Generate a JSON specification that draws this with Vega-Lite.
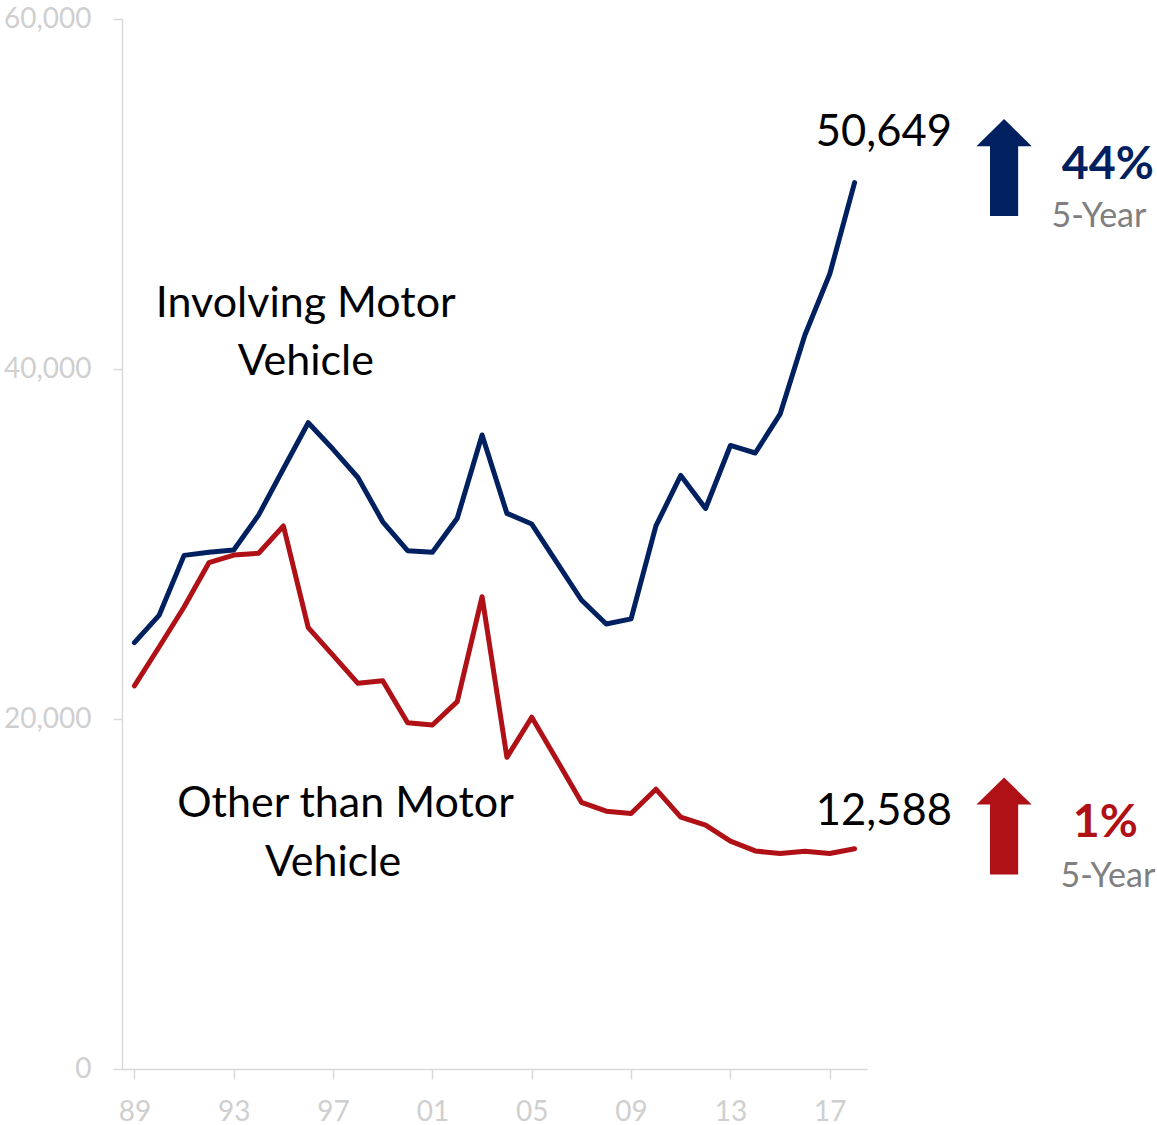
{
  "$schema": "https://vega.github.io/schema/vega-lite/v6.json",
  "width": 745,
  "height": 1050,
  "autosize": {"type": "none"},
  "padding": {"left": 122, "top": 19, "right": 290, "bottom": 56},
  "background": "white",
  "config": {
    "view": {"stroke": null},
    "font": "Lato",
    "axis": {
      "grid": false,
      "title": null,
      "domainColor": "#D9D9D9",
      "tickColor": "#D9D9D9",
      "labelColor": "#CFCFCF",
      "labelFont": "Lato",
      "labelFontSize": 28,
      "domainWidth": 1.5,
      "tickWidth": 1.5
    }
  },
  "datasets": {
    "series": [
      {"year": 1989, "series": "Involving Motor Vehicle", "value": 24360},
      {"year": 1990, "series": "Involving Motor Vehicle", "value": 25940},
      {"year": 1991, "series": "Involving Motor Vehicle", "value": 29350},
      {"year": 1992, "series": "Involving Motor Vehicle", "value": 29530},
      {"year": 1993, "series": "Involving Motor Vehicle", "value": 29660},
      {"year": 1994, "series": "Involving Motor Vehicle", "value": 31650},
      {"year": 1995, "series": "Involving Motor Vehicle", "value": 34300},
      {"year": 1996, "series": "Involving Motor Vehicle", "value": 36930},
      {"year": 1997, "series": "Involving Motor Vehicle", "value": 35410},
      {"year": 1998, "series": "Involving Motor Vehicle", "value": 33800},
      {"year": 1999, "series": "Involving Motor Vehicle", "value": 31270},
      {"year": 2000, "series": "Involving Motor Vehicle", "value": 29620},
      {"year": 2001, "series": "Involving Motor Vehicle", "value": 29530},
      {"year": 2002, "series": "Involving Motor Vehicle", "value": 31470},
      {"year": 2003, "series": "Involving Motor Vehicle", "value": 36230},
      {"year": 2004, "series": "Involving Motor Vehicle", "value": 31750},
      {"year": 2005, "series": "Involving Motor Vehicle", "value": 31140},
      {"year": 2006, "series": "Involving Motor Vehicle", "value": 28970},
      {"year": 2007, "series": "Involving Motor Vehicle", "value": 26800},
      {"year": 2008, "series": "Involving Motor Vehicle", "value": 25430},
      {"year": 2009, "series": "Involving Motor Vehicle", "value": 25720},
      {"year": 2010, "series": "Involving Motor Vehicle", "value": 31030},
      {"year": 2011, "series": "Involving Motor Vehicle", "value": 33920},
      {"year": 2012, "series": "Involving Motor Vehicle", "value": 32030},
      {"year": 2013, "series": "Involving Motor Vehicle", "value": 35630},
      {"year": 2014, "series": "Involving Motor Vehicle", "value": 35200},
      {"year": 2015, "series": "Involving Motor Vehicle", "value": 37420},
      {"year": 2016, "series": "Involving Motor Vehicle", "value": 41940},
      {"year": 2017, "series": "Involving Motor Vehicle", "value": 45430},
      {"year": 2018, "series": "Involving Motor Vehicle", "value": 50649},
      {"year": 1989, "series": "Other than Motor Vehicle", "value": 21890},
      {"year": 1990, "series": "Other than Motor Vehicle", "value": 24130},
      {"year": 1991, "series": "Other than Motor Vehicle", "value": 26400},
      {"year": 1992, "series": "Other than Motor Vehicle", "value": 28930},
      {"year": 1993, "series": "Other than Motor Vehicle", "value": 29370},
      {"year": 1994, "series": "Other than Motor Vehicle", "value": 29470},
      {"year": 1995, "series": "Other than Motor Vehicle", "value": 31030},
      {"year": 1996, "series": "Other than Motor Vehicle", "value": 25220},
      {"year": 1997, "series": "Other than Motor Vehicle", "value": 23640},
      {"year": 1998, "series": "Other than Motor Vehicle", "value": 22040},
      {"year": 1999, "series": "Other than Motor Vehicle", "value": 22190},
      {"year": 2000, "series": "Other than Motor Vehicle", "value": 19790},
      {"year": 2001, "series": "Other than Motor Vehicle", "value": 19660},
      {"year": 2002, "series": "Other than Motor Vehicle", "value": 20990},
      {"year": 2003, "series": "Other than Motor Vehicle", "value": 26990},
      {"year": 2004, "series": "Other than Motor Vehicle", "value": 17810},
      {"year": 2005, "series": "Other than Motor Vehicle", "value": 20100},
      {"year": 2006, "series": "Other than Motor Vehicle", "value": 17690},
      {"year": 2007, "series": "Other than Motor Vehicle", "value": 15240},
      {"year": 2008, "series": "Other than Motor Vehicle", "value": 14730},
      {"year": 2009, "series": "Other than Motor Vehicle", "value": 14600},
      {"year": 2010, "series": "Other than Motor Vehicle", "value": 15990},
      {"year": 2011, "series": "Other than Motor Vehicle", "value": 14390},
      {"year": 2012, "series": "Other than Motor Vehicle", "value": 13940},
      {"year": 2013, "series": "Other than Motor Vehicle", "value": 13020},
      {"year": 2014, "series": "Other than Motor Vehicle", "value": 12460},
      {"year": 2015, "series": "Other than Motor Vehicle", "value": 12310},
      {"year": 2016, "series": "Other than Motor Vehicle", "value": 12440},
      {"year": 2017, "series": "Other than Motor Vehicle", "value": 12310},
      {"year": 2018, "series": "Other than Motor Vehicle", "value": 12588}
    ],
    "notes": [
      {"kind": "label", "text": "Involving Motor", "year": 1995.9, "value": 43000, "series": "Involving Motor Vehicle"},
      {"kind": "label", "text": "Vehicle", "year": 1995.9, "value": 39660, "series": "Involving Motor Vehicle"},
      {"kind": "label", "text": "Other than Motor", "year": 1997.5, "value": 14400, "series": "Other than Motor Vehicle"},
      {"kind": "label", "text": "Vehicle", "year": 1997.0, "value": 11050, "series": "Other than Motor Vehicle"},
      {"kind": "value", "text": "50,649", "year": 2019.18, "value": 52740, "series": "Involving Motor Vehicle"},
      {"kind": "value", "text": "12,588", "year": 2019.18, "value": 13940, "series": "Other than Motor Vehicle"},
      {"kind": "pct", "text": "44%", "year": 2028.2, "value": 50860, "series": "Involving Motor Vehicle"},
      {"kind": "pct", "text": "1%", "year": 2028.1, "value": 13260, "series": "Other than Motor Vehicle"},
      {"kind": "sub", "text": "5-Year", "year": 2027.84, "value": 48110, "series": "Involving Motor Vehicle"},
      {"kind": "sub", "text": "5-Year", "year": 2028.2, "value": 10400, "series": "Other than Motor Vehicle"},
      {"kind": "arrow", "text": "", "year": 2024.02, "value": 51510, "series": "Involving Motor Vehicle"},
      {"kind": "arrow", "text": "", "year": 2024.02, "value": 13890, "series": "Other than Motor Vehicle"}
    ]
  },
  "encoding": {
    "x": {
      "field": "year",
      "type": "quantitative",
      "scale": {"domain": [1988.5, 2018.5], "nice": false, "zero": false},
      "axis": {
        "values": [1989, 1993, 1997, 2001, 2005, 2009, 2013, 2017],
        "format": "d",
        "labelExpr": "slice(datum.label, 2)",
        "tickSize": 10,
        "labelPadding": 19
      }
    },
    "y": {
      "field": "value",
      "type": "quantitative",
      "scale": {"domain": [0, 60000], "nice": false},
      "axis": {
        "values": [0, 20000, 40000, 60000],
        "format": ",.0f",
        "tickSize": 9,
        "labelPadding": 22
      }
    },
    "color": {
      "field": "series",
      "type": "nominal",
      "scale": {
        "domain": ["Involving Motor Vehicle", "Other than Motor Vehicle"],
        "range": ["#002060", "#AF1116"]
      },
      "legend": null
    }
  },
  "layer": [
    {
      "data": {"name": "series"},
      "mark": {"type": "line", "strokeWidth": 5, "strokeCap": "round", "strokeJoin": "round"}
    },
    {
      "data": {"name": "notes"},
      "transform": [{"filter": "datum.kind === 'arrow'"}],
      "mark": {
        "type": "point",
        "shape": "M-0.29,1L-0.29,-0.44L-0.57,-0.44L0,-1L0.57,-0.44L0.29,-0.44L0.29,1Z",
        "size": 9409,
        "filled": true,
        "opacity": 1,
        "strokeWidth": 0
      }
    },
    {
      "data": {"name": "notes"},
      "transform": [{"filter": "datum.kind === 'label'"}],
      "mark": {"type": "text", "fontSize": 43, "font": "Lato", "align": "center", "baseline": "alphabetic"},
      "encoding": {"text": {"field": "text"}, "color": {"value": "#000000"}}
    },
    {
      "data": {"name": "notes"},
      "transform": [{"filter": "datum.kind === 'value'"}],
      "mark": {"type": "text", "fontSize": 43.5, "font": "Lato", "align": "center", "baseline": "alphabetic"},
      "encoding": {"text": {"field": "text"}, "color": {"value": "#000000"}}
    },
    {
      "data": {"name": "notes"},
      "transform": [{"filter": "datum.kind === 'pct'"}],
      "mark": {"type": "text", "fontSize": 46.5, "font": "Lato", "fontWeight": "bold", "align": "center", "baseline": "alphabetic"},
      "encoding": {"text": {"field": "text"}}
    },
    {
      "data": {"name": "notes"},
      "transform": [{"filter": "datum.kind === 'sub'"}],
      "mark": {"type": "text", "fontSize": 34, "font": "Lato", "align": "center", "baseline": "alphabetic"},
      "encoding": {"text": {"field": "text"}, "color": {"value": "#7F7F7F"}}
    }
  ]
}
